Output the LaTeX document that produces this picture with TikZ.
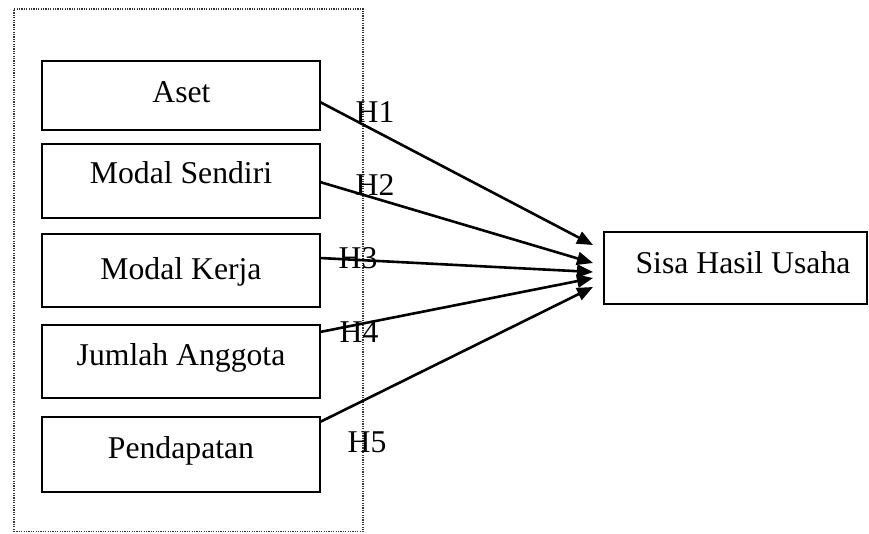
\documentclass[tikz,border=0pt]{standalone}
\usepackage{fontspec}
\setmainfont{Liberation Serif}
\usetikzlibrary{arrows.meta}
\begin{document}
\begin{tikzpicture}[x=1pt,y=-1pt,
  box/.style={draw=black,line width=2.4pt,inner sep=0pt},
  txt/.style={anchor=base,inner sep=0pt,font=\fontsize{31.7}{38}\selectfont},
  hlab/.style={inner sep=0pt,font=\fontsize{31.7}{38}\selectfont},
  arr/.style={line width=2.6pt,-{Triangle[length=16pt,width=13pt]}},
  grp/.style={draw=black!80,line width=1.4pt,dash pattern=on 1.2pt off 1.2pt}]
\useasboundingbox (0,0) rectangle (869,533);
% dotted group frame
\node[grp,minimum width=349pt,minimum height=522.5pt,inner sep=0pt] (frame) at (188.5,270.25) {};
% left boxes
\node[box,minimum width=278pt,minimum height=69pt] (aset) at (181,95.5) {};
\node[box,minimum width=278pt,minimum height=74pt] (ms) at (181,181) {};
\node[box,minimum width=278pt,minimum height=73pt] (mk) at (181,270.5) {};
\node[box,minimum width=278pt,minimum height=73pt] (ja) at (181,361.5) {};
\node[box,minimum width=278pt,minimum height=75pt] (pd) at (181,454.5) {};
\node[box,minimum width=263pt,minimum height=72pt] (shu) at (735.5,268) {};
% texts
\node[txt] (asett) at (181.5,102) {Aset};
\node[txt] (mst) at (181,183) {Modal Sendiri};
\node[txt] (mkt) at (181,279) {Modal Kerja};
\node[txt] (jat) at (181,365) {Jumlah Anggota};
\node[txt] (pdt) at (181,458) {Pendapatan};
\node[txt] (shut) at (743,273) {Sisa Hasil Usaha};
% arrow endpoints
\coordinate (s1) at (320,102);
\coordinate (s2) at (320,182);
\coordinate (s3) at (320,258);
\coordinate (s4) at (320,332);
\coordinate (s5) at (320,422);
\coordinate (t1) at (593,245);
\coordinate (t2) at (593,263);
\coordinate (t3) at (593,272);
\coordinate (t4) at (593,278);
\coordinate (t5) at (593,287);
\draw[arr] (s1) -- (t1);
\draw[arr] (s2) -- (t2);
\draw[arr] (s3) -- (t3);
\draw[arr] (s4) -- (t4);
\draw[arr] (s5) -- (t5);
% hypothesis labels
\node[hlab] (h1) at (375,112) {H1};
\node[hlab] (h2) at (375,185) {H2};
\node[hlab] (h3) at (358,258.5) {H3};
\node[hlab] (h4) at (359,332.5) {H4};
\node[hlab] (h5) at (367,442.5) {H5};
\end{tikzpicture}
\end{document}
